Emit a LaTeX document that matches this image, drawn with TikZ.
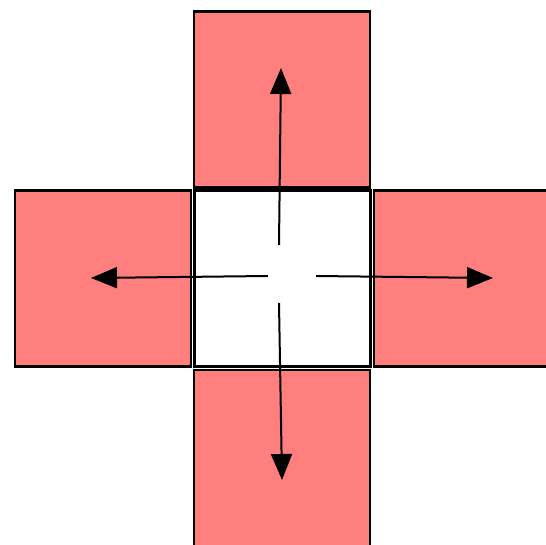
\documentclass[tikz,border=0pt]{standalone}
\usetikzlibrary{arrows.meta}
\definecolor{sqred}{RGB}{255,127,127}
\begin{document}
\begin{tikzpicture}[x=1pt,y=-1pt,
  redsq/.style={draw=black,fill=sqred,line width=2.6pt,minimum size=176pt,inner sep=0pt,outer sep=0pt},
  whitesq/.style={draw=black,fill=white,line width=2.6pt,minimum size=176pt,inner sep=0pt,outer sep=0pt},
  arr/.style={line width=2pt,-{Triangle[length=26pt,width=21pt]}}]
\useasboundingbox (0,0) rectangle (546,545);
\begin{scope}
\clip (0,0) rectangle (546,545);
\node[redsq] (top) at (282,99.5) {};
\node[redsq] (left) at (103,278.5) {};
\node[redsq] (right) at (462,278.5) {};
\node[redsq] (bottom) at (282,458) {};
\node[whitesq] (center) at (282.5,278.5) {};
\end{scope}
\coordinate (su) at (279,245);
\coordinate (eu) at (281,68);
\coordinate (sl) at (268,276);
\coordinate (el) at (91,278);
\coordinate (sr) at (316,276);
\coordinate (er) at (493,278);
\coordinate (sd) at (279,303);
\coordinate (ed) at (282,480);
\draw[arr] (su) -- (eu);
\draw[arr] (sl) -- (el);
\draw[arr] (sr) -- (er);
\draw[arr] (sd) -- (ed);
\end{tikzpicture}
\end{document}
